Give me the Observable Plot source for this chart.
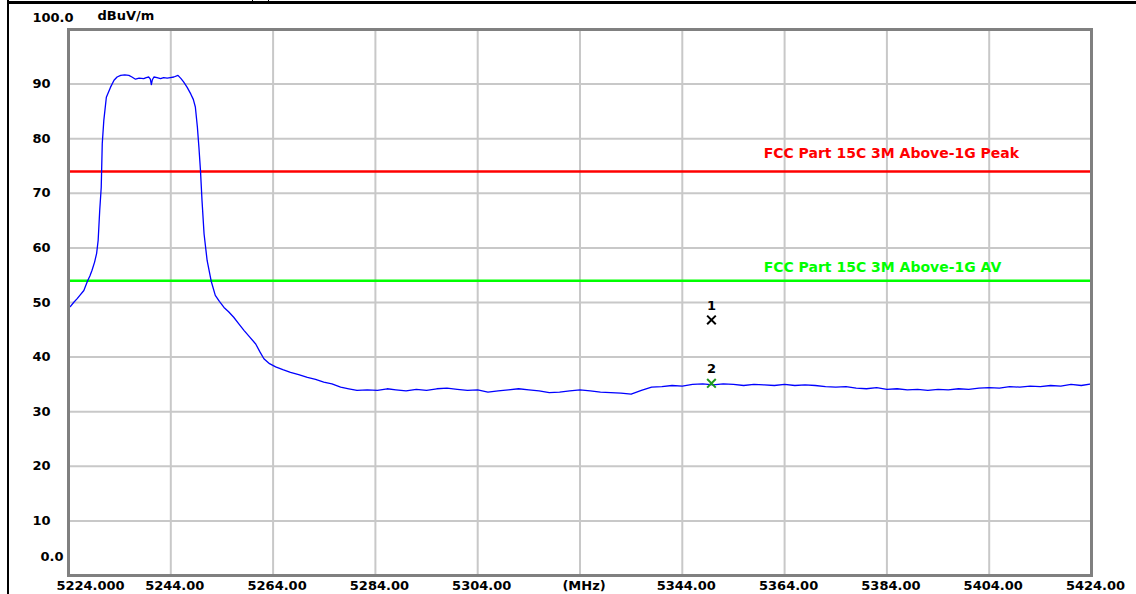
<!DOCTYPE html>
<html>
<head>
<meta charset="utf-8">
<script src="https://cdn.jsdelivr.net/npm/d3@7"></script>
<script src="https://cdn.jsdelivr.net/npm/@observablehq/plot@0.6"></script>
<style>
  html, body { margin: 0; padding: 0; background: #fff; }
  #wrap { position: relative; width: 1136px; height: 594px; overflow: hidden; }
  #chart { position: absolute; left: 0; top: 0; }
  .bl { position: absolute; background: #000; }
</style>
</head>
<body>
<div id="wrap">
  <div id="chart"></div>
  <div class="bl" style="left:7px; top:0; width:2px; height:594px;"></div>
  <div class="bl" style="left:7px; top:1px; width:1129px; height:3px;"></div>
  <div class="bl" style="left:252px; top:0; width:1px; height:4px;"></div>
  <div class="bl" style="left:268px; top:0; width:1px; height:4px;"></div>
</div>
<script>
// ---- data ----
const freqs = [
  5224.0, 5224.4, 5225.0, 5225.7, 5226.3, 5227.0, 5227.7, 5228.2, 5228.6, 5229.1,
  5229.5, 5229.8, 5230.1, 5230.4, 5230.6, 5230.9, 5231.4, 5232.2, 5232.9, 5233.5,
  5234.2, 5235.0, 5235.8, 5236.4, 5237.1, 5237.8, 5238.7, 5239.2, 5239.7, 5240.0,
  5240.2, 5240.4, 5240.7, 5241.3, 5242.0, 5242.6, 5243.3, 5243.9, 5244.6, 5245.4,
  5246.0, 5246.5, 5247.2, 5247.9, 5248.4, 5248.8, 5249.2, 5249.5, 5249.8, 5250.1,
  5250.5, 5251.1, 5251.9, 5252.7, 5253.5, 5254.4, 5255.3, 5256.3, 5257.3, 5258.3,
  5259.4, 5260.6, 5261.4, 5262.2, 5263.3, 5264.5, 5265.9, 5267.4, 5269.0, 5270.7,
  5272.3, 5273.9, 5275.5, 5277.2, 5278.8, 5280.4, 5282.4, 5284.4, 5286.3,
  5288, 5290, 5292, 5294, 5296, 5298, 5300, 5302, 5304, 5306, 5308, 5310, 5312, 5314,
  5316, 5318, 5320, 5322, 5324, 5326, 5328, 5330, 5332, 5334, 5336, 5338, 5340, 5342,
  5344, 5346, 5348, 5350, 5352, 5354, 5356, 5358, 5360, 5362, 5364, 5366, 5368, 5370,
  5372, 5374, 5376, 5378, 5380, 5382, 5384, 5386, 5388, 5390, 5392, 5394, 5396, 5398,
  5400, 5402, 5404, 5406, 5408, 5410, 5412, 5414, 5416, 5418, 5420, 5422, 5424
];
const levels = [
  49.0, 49.3, 50.0, 50.7, 51.4, 52.2, 53.9, 54.9, 55.9, 57.4,
  59.0, 61.4, 66.8, 71.1, 79.1, 83.3, 87.6, 89.4, 90.7, 91.3,
  91.6, 91.7, 91.6, 91.3, 90.9, 91.1, 91.0, 91.2, 91.3, 90.9,
  89.9, 90.8, 91.3, 91.2, 91.0, 91.2, 91.1, 91.2, 91.3, 91.6,
  91.0, 90.4, 89.4, 88.2, 87.2, 85.8, 82.1, 78.4, 74.2, 68.7,
  62.6, 57.7, 53.9, 51.3, 50.2, 49.1, 48.3, 47.3, 46.1, 44.9,
  43.7, 42.4, 41.0, 39.7, 38.8, 38.2, 37.7, 37.2, 36.8, 36.3,
  35.9, 35.4, 35.1, 34.5, 34.2, 33.9, 34.0, 33.9, 34.2,
  34.0, 33.8, 34.1, 33.9, 34.2, 34.3, 34.1, 33.9, 34.0, 33.6, 33.8, 34.0, 34.2, 34.0,
  33.8, 33.5, 33.6, 33.8, 34.0, 33.8, 33.6, 33.5, 33.4, 33.2, 33.9, 34.5, 34.6, 34.8,
  34.7, 35.0, 35.1, 34.9, 35.1, 35.0, 34.8, 35.0, 34.9, 34.8, 35.0, 34.8, 34.9, 34.8,
  34.6, 34.5, 34.6, 34.3, 34.2, 34.4, 34.1, 34.2, 34.0, 34.1, 33.9, 34.1, 34.0, 34.2,
  34.1, 34.3, 34.4, 34.3, 34.6, 34.5, 34.7, 34.6, 34.8, 34.7, 35.0, 34.8, 35.1
];
const xTickValues = [5224, 5244, 5264, 5284, 5304, 5324, 5344, 5364, 5384, 5404, 5424];
const xTickLabels = ["5224.000", "5244.00", "5264.00", "5284.00", "5304.00", "(MHz)",
                     "5344.00", "5364.00", "5384.00", "5404.00", "5424.00"];
const yTickValues = [0, 10, 20, 30, 40, 50, 60, 70, 80, 90, 100];
const yTickLabels = ["0.0", "10", "20", "30", "40", "50", "60", "70", "80", "90", "100.0"];
const yUnit = "dBuV/m";
const limitLevels = [74, 54];
const limitNames = ["FCC Part 15C 3M Above-1G Peak", "FCC Part 15C 3M Above-1G AV"];
const limitColors = ["#ff0000", "#00ff00"];
const limitLabelFreq = 5359.9;
const markerFreqs = [5349.7, 5349.7];
const markerLevels = [46.8, 35.2];
const markerNames = ["1", "2"];
const markerColors = ["#000000", "#1f9a1f"];

// ---- build ----
const trace = freqs.map((f, i) => ({f, v: levels[i]}));
const xt = xTickValues.map((v, i) => ({v, label: xTickLabels[i]}));
const yt = yTickValues.map((v, i) => ({v, label: yTickLabels[i]}));
const lim = limitLevels.map((v, i) => ({v, name: limitNames[i], color: limitColors[i]}));
const mk = markerFreqs.map((f, i) => ({f, v: markerLevels[i], name: markerNames[i], color: markerColors[i]}));
const F = "DejaVu Sans";
const x0 = xTickValues[0];
const yTop = yTickValues[yTickValues.length - 1];

const chart = Plot.plot({
  width: 1136,
  height: 594,
  marginLeft: 68,
  marginRight: 45,
  marginTop: 29,
  marginBottom: 19,
  x: {domain: [xTickValues[0], xTickValues[xTickValues.length - 1]], axis: null},
  y: {domain: [yTickValues[0], yTop], axis: null},
  style: {background: "transparent", fontFamily: F},
  marks: [
    Plot.ruleX(xTickValues.slice(1, -1), {stroke: "#c8c8c8", strokeWidth: 2}),
    Plot.ruleY(yTickValues.slice(1, -1), {stroke: "#c8c8c8", strokeWidth: 2}),
    Plot.ruleY(lim, {y: "v", stroke: d => d.color, strokeWidth: 2.5}),
    Plot.text(lim.slice(0, 1), {x: () => limitLabelFreq, y: "v", text: "name", fill: d => d.color,
      textAnchor: "start", dy: -18, fontSize: 14, fontWeight: "bold", fontFamily: F}),
    Plot.text(lim.slice(1), {x: () => limitLabelFreq, y: "v", text: "name", fill: d => d.color,
      textAnchor: "start", dy: -13, fontSize: 14, fontWeight: "bold", fontFamily: F}),
    Plot.line(trace, {x: "f", y: "v", stroke: "#0000ff", strokeWidth: 1.3}),
    Plot.dot(mk, {x: "f", y: "v", symbol: "times", r: 4, stroke: d => d.color, strokeWidth: 2}),
    Plot.text(mk, {x: "f", y: "v", text: "name", dy: -14, fill: "#000", fontSize: 13, fontWeight: "bold", fontFamily: F}),
    Plot.frame({stroke: "#808080", strokeWidth: 3}),
    // x tick labels
    Plot.text(xt.slice(0, 1), {x: "v", y: () => 0, text: "label", dx: 22, dy: 10,
      fill: "#000", fontSize: 13, fontWeight: "bold", fontFamily: F}),
    Plot.text(xt.slice(1), {x: "v", y: () => 0, text: "label", dx: 4, dy: 10,
      fill: "#000", fontSize: 13, fontWeight: "bold", fontFamily: F}),
    // y tick labels
    Plot.text(yt.slice(1, -1), {x: () => x0, y: "v", text: "label", textAnchor: "end", dx: -18,
      fill: "#000", fontSize: 13, fontWeight: "bold", fontFamily: F}),
    Plot.text(yt.slice(0, 1), {x: () => x0, y: "v", text: "label", textAnchor: "end", dx: -5, dy: -19,
      fill: "#000", fontSize: 13, fontWeight: "bold", fontFamily: F}),
    Plot.text(yt.slice(-1), {x: () => x0, y: "v", text: "label", textAnchor: "end", dx: 5, dy: -12,
      fill: "#000", fontSize: 13, fontWeight: "bold", fontFamily: F}),
    Plot.text([yUnit], {x: () => x0, y: () => yTop, text: d => d, textAnchor: "start", dx: 29, dy: -14,
      fill: "#000", fontSize: 13, fontWeight: "bold", fontFamily: F})
  ]
});
document.getElementById("chart").appendChild(chart);
</script>
</body>
</html>
